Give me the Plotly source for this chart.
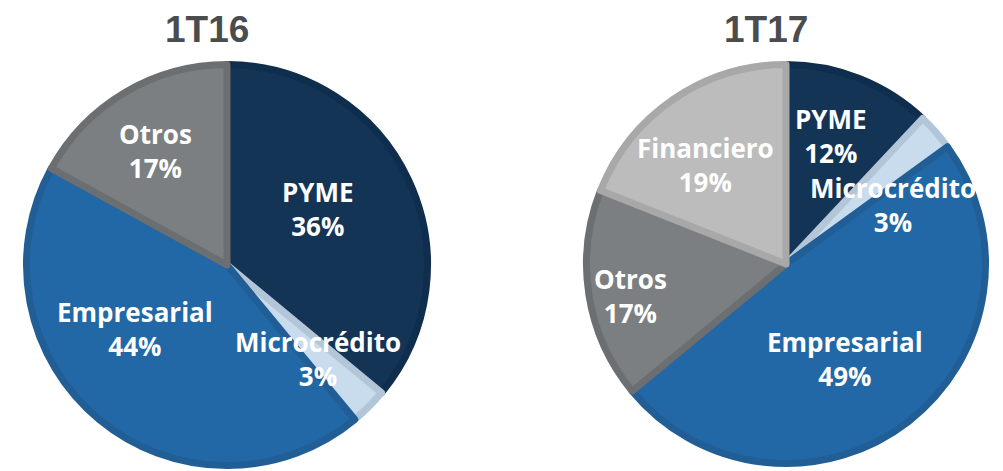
import plotly.graph_objects as go

# ---- data ----
cats_16 = ["PYME", "Microcrédito", "Empresarial", "Otros"]
vals_16 = [36, 3, 44, 17]
cats_17 = ["PYME", "Microcrédito", "Empresarial", "Otros", "Financiero"]
vals_17 = [12, 3, 49, 17, 19]
titles = ["1T16", "1T17"]

# ---- styles ----
fill = {"PYME": "#143456", "Microcrédito": "#c9dcee", "Empresarial": "#2268a6",
        "Otros": "#7c7f82", "Financiero": "#bcbcbc"}
edge = {"PYME": "#0f2d4c", "Microcrédito": "#b3c6d8", "Empresarial": "#225e96",
        "Otros": "#6c6f72", "Financiero": "#a8a8a8"}

W, H = 1003, 471
OFF = 8  # page body margin
LW = 7


def fx(px):
    return (px - OFF) / W


def fy(py):
    return 1 - (py - OFF) / H


# label block centres (window px) per pie, in category order
lab_pos_16 = [(318, 209), (318, 359), (135, 329), (155, 151)]
lab_pos_17 = [(831, 136), (893, 205), (845, 359), (630, 296), (705, 165)]

fig = go.Figure()


def add_pie(cats, vals, x0, x1, ytop, ybot):
    s = LW / 2
    fig.add_trace(go.Pie(
        labels=cats, values=vals, sort=False, direction="clockwise", rotation=0,
        marker=dict(colors=[fill[c] for c in cats],
                    line=dict(color=[edge[c] for c in cats], width=LW)),
        textinfo="none", hoverinfo="label+percent", showlegend=False,
        domain=dict(x=[fx(x0 + s), fx(x1 - s)], y=[fy(ybot - s), fy(ytop + s)])))


add_pie(cats_16, vals_16, 23, 431, 61, 469)
add_pie(cats_17, vals_17, 583, 989, 61, 467)


def add_labels(cats, vals, pos):
    tot = sum(vals)
    for c, v, (px, py) in zip(cats, vals, pos):
        fig.add_annotation(x=fx(px), y=fy(py), xref="paper", yref="paper",
                           text=f"<b>{c}<br>{round(100 * v / tot)}%</b>", showarrow=False,
                           xanchor="center", yanchor="middle", align="center",
                           font=dict(family="Open Sans", size=26, color="white"))


add_labels(cats_16, vals_16, lab_pos_16)
add_labels(cats_17, vals_17, lab_pos_17)

for t, px in zip(titles, [207, 766]):
    fig.add_annotation(x=fx(px), y=1, xref="paper", yref="paper", text=f"<b>{t}</b>",
                       showarrow=False, xanchor="center", yanchor="top", borderpad=0,
                       font=dict(family="Liberation Sans", size=37, color="#4b4c4e"))

fig.update_layout(width=W, height=H, margin=dict(l=0, r=0, t=0, b=0),
                  paper_bgcolor="white", plot_bgcolor="white",
                  font=dict(family="Open Sans"))
fig.write_html("out.html")
